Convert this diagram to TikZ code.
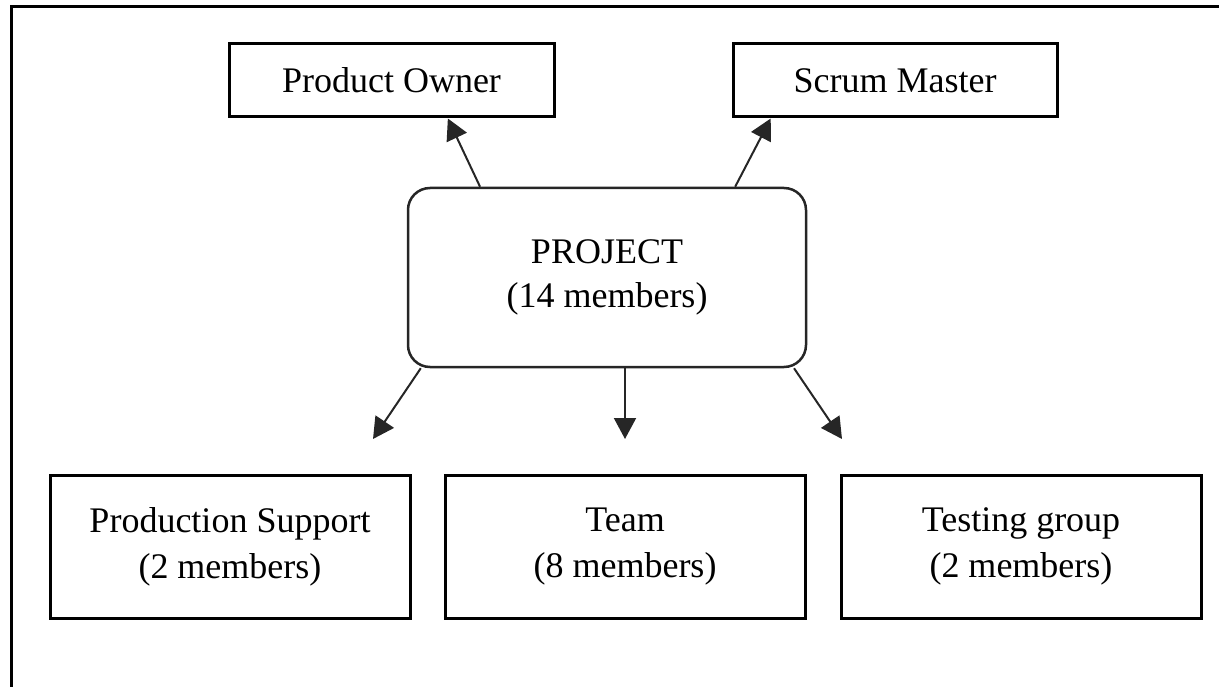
\documentclass[tikz,border=0pt]{standalone}
\usepackage{fontspec}
\setmainfont{Liberation Serif}
\usetikzlibrary{arrows.meta, positioning, calc}

\begin{document}
\begin{tikzpicture}[x=1pt, y=-1pt,
                role/.style={rectangle, draw=black, line width=3pt, inner sep=0pt, align=center, font=\fontsize{36}{46}\selectfont},
                hub/.style={rectangle, draw=black!85, line width=2.5pt, rounded corners=22pt, inner sep=0pt, align=center, minimum width=398pt, minimum height=179pt, font=\fontsize{36}{44}\selectfont},
                link/.style={-{Triangle[length=21pt, width=22pt]}, line width=2pt, black!85}
            ]
                \useasboundingbox (0,0) rectangle (1219,687);
                % frame
                \draw[line width=3pt] (11.5,687) -- (11.5,6.5) -- (1219,6.5);

                \node[hub] (proj) at (607, 277.5) {PROJECT\\(14 members)};
                \node[role, minimum width=325pt, minimum height=73pt] (owner) at (391.5, 80.5) {Product Owner};
                \node[role, minimum width=324pt, minimum height=73pt] (master) at (895, 80.5) {Scrum Master};
                \node[role, minimum width=360pt, minimum height=143pt] (support) at (230, 546.5) {Production Support\\(2 members)};
                \node[role, minimum width=360pt, minimum height=143pt] (team) at (625, 546.5) {Team\\(8 members)};
                \node[role, minimum width=360pt, minimum height=143pt] (testing) at (1021, 546.5) {Testing group\\(2 members)};

                \coordinate (supportend) at (373, 439);
                \coordinate (teamend) at (625, 439);
                \coordinate (testingend) at (842, 439);

                \draw[link] ($(proj.north west)!0.183!(proj.north east)$) -- (owner.-34.3);
                \draw[link] ($(proj.north west)!0.82!(proj.north east)$) -- (master.-163.7);
                \draw[link] ($(proj.south west)!0.035!(proj.south east)$) -- (supportend);
                \draw[link] (proj.south -| teamend) -- (teamend);
                \draw[link] ($(proj.south west)!0.967!(proj.south east)$) -- (testingend);
            \end{tikzpicture}
\end{document}
